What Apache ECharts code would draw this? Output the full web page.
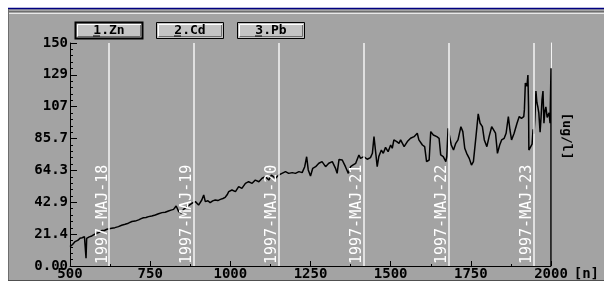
<!DOCTYPE html>
<html>
<head>
<meta charset="utf-8">
<script src="https://cdn.jsdelivr.net/npm/echarts@6/dist/echarts.min.js"></script>
<style>
  html, body { margin: 0; padding: 0; background: #fff; }
  #myChart { width: 604px; height: 284px; }
</style>
</head>
<body>
<div id="myChart"></div>
<script>
// sample number [n]
var sampleN = [500, 508, 516, 524, 531, 538, 545, 549, 550, 552, 560, 568, 576, 583, 591, 599, 607, 615, 622, 630,
  640, 651, 661, 672, 682, 693, 703, 714, 722, 729, 737, 745, 755, 766, 776, 787, 797, 807, 815, 823,
  831, 835, 839, 847, 854, 860, 865, 872, 880, 886, 891, 901, 911, 917, 922, 930, 937, 945, 953, 961,
  969, 977, 984, 990, 995, 1005, 1016, 1026, 1036, 1047, 1057, 1068, 1078, 1089, 1099, 1109, 1120, 1128, 1141, 1151,
  1161, 1172, 1182, 1193, 1203, 1214, 1224, 1232, 1238, 1243, 1250, 1257, 1266, 1276, 1286, 1297, 1307, 1318, 1328, 1333,
  1339, 1349, 1359, 1368, 1375, 1383, 1391, 1401, 1406, 1416, 1427, 1437, 1443, 1448, 1453, 1458, 1463, 1471, 1477, 1484,
  1492, 1500, 1505, 1510, 1519, 1526, 1531, 1542, 1552, 1562, 1573, 1583, 1588, 1599, 1606, 1612, 1620, 1625, 1633, 1644,
  1651, 1656, 1664, 1672, 1675, 1679, 1683, 1689, 1696, 1703, 1710, 1719, 1725, 1731, 1737, 1745, 1752, 1758, 1766, 1773,
  1779, 1786, 1792, 1800, 1807, 1815, 1821, 1827, 1833, 1840, 1846, 1854, 1860, 1867, 1872, 1877, 1885, 1894, 1901, 1908,
  1915, 1917, 1920, 1925, 1928, 1930, 1931, 1934, 1941, 1944, 1947, 1950, 1953, 1956, 1959, 1962, 1966, 1969, 1972, 1975,
  1978, 1981, 1984, 1988, 1991, 1994, 1997, 2000, 2000];
// Zn [ug/l]
var znValues = [13.0, 14.5, 16.4, 17.2, 18.6, 19.0, 19.8, 20.9, 5.2, 18.6, 19.6, 20.2, 21.3, 22.0, 22.6, 23.8, 23.9, 24.7, 25.0, 25.4,
  25.8, 26.5, 27.4, 28.1, 28.8, 29.9, 30.2, 31.0, 31.9, 32.5, 32.6, 33.2, 33.7, 34.3, 35.1, 35.9, 36.2, 37.0, 37.6, 38.1,
  40.4, 38.5, 36.6, 35.5, 38.1, 39.0, 39.9, 41.0, 42.2, 42.5, 43.3, 41.0, 44.4, 47.8, 43.3, 43.9, 42.6, 43.8, 44.4, 44.0,
  44.8, 45.4, 46.2, 47.9, 50.0, 51.1, 50.0, 53.4, 52.2, 55.6, 56.7, 55.6, 57.8, 56.7, 59.0, 60.1, 57.8, 61.2, 59.0, 61.2,
  62.3, 63.5, 62.3, 62.8, 62.3, 63.5, 62.8, 66.8, 73.5, 64.6, 60.5, 65.7, 66.8, 69.1, 70.2, 66.8, 69.1, 70.2, 65.7, 62.3,
  71.7, 71.3, 66.8, 62.3, 66.8, 68.0, 69.1, 74.7, 72.4, 73.6, 71.8, 72.9, 75.8, 87.0, 85.9, 66.8, 73.6, 78.0, 75.8, 79.8,
  76.9, 81.4, 79.2, 84.8, 83.7, 82.5, 84.8, 80.3, 83.7, 85.9, 87.0, 89.3, 84.8, 81.4, 80.3, 70.2, 71.3, 90.4, 88.1, 87.0,
  85.9, 74.7, 73.6, 70.2, 73.6, 92.6, 91.5, 81.4, 78.0, 82.5, 84.8, 93.7, 90.4, 79.2, 75.8, 72.4, 67.9, 70.2, 87.0, 102.3,
  96.0, 93.7, 84.8, 80.3, 87.0, 93.7, 94.9, 89.3, 75.8, 81.4, 84.8, 85.9, 89.3, 100.5, 91.5, 84.8, 89.3, 96.0, 100.5, 99.3,
  100.5, 105, 123, 121, 128.5, 107, 78, 79, 82, 92, 89, 100, 117.7, 110, 107, 103, 90, 100, 112, 117.7,
  96, 104, 107, 100, 99, 103, 96, 133, 0];

var markerN = [622, 887, 1150, 1416, 1681, 1947];
var markerLabels = ['1997-MAJ-18', '1997-MAJ-19', '1997-MAJ-20', '1997-MAJ-21', '1997-MAJ-22', '1997-MAJ-23'];
var yTickLabels = ['0.00', '21.4', '42.9', '64.3', '85.7', '107', '129', '150'];
var xTickLabels = ['500', '750', '1000', '1250', '1500', '1750', '2000'];
var buttons = ['1.Zn', '2.Cd', '3.Pb'];

var mono = '"DejaVu Sans Mono", "Liberation Mono", monospace';

var points = [];
for (var i = 0; i < sampleN.length; i++) {
  points.push([sampleN[i], znValues[i]]);
}

var markData = [];
for (var k = 0; k < markerN.length; k++) {
  markData.push({ xAxis: markerN[k], label: { formatter: markerLabels[k] } });
}

// window frame and buttons
var graphics = [
  { type: 'rect', shape: { x: 8, y: 9, width: 596, height: 271 }, style: { fill: '#a3a3a3' }, silent: true },
  { type: 'line', shape: { x1: 8, y1: 8.5, x2: 604, y2: 8.5 }, style: { stroke: '#000080', lineWidth: 1.5 } },
  { type: 'line', shape: { x1: 8, y1: 11.5, x2: 604, y2: 11.5 }, style: { stroke: '#6e6e6e', lineWidth: 1 } },
  { type: 'line', shape: { x1: 8, y1: 13.5, x2: 604, y2: 13.5 }, style: { stroke: '#e8e8e8', lineWidth: 1 } },
  { type: 'line', shape: { x1: 8.5, y1: 9, x2: 8.5, y2: 280 }, style: { stroke: '#6e6e6e', lineWidth: 1 } },
  { type: 'line', shape: { x1: 8, y1: 280.5, x2: 604, y2: 280.5 }, style: { stroke: '#505050', lineWidth: 1 } }
];
var btnX = [75, 156, 237];
for (var b = 0; b < buttons.length; b++) {
  var bx = btnX[b];
  graphics.push({ type: 'rect', shape: { x: bx + 0.5, y: 22.5, width: 67, height: 16 },
    style: { fill: '#c4c4c4', stroke: '#000', lineWidth: b === 0 ? 2 : 1 } });
  graphics.push({ type: 'polyline', shape: { points: [[bx + 2.5, 36], [bx + 2.5, 24.5], [bx + 66, 24.5]] },
    style: { stroke: '#fff', lineWidth: 1, fill: null } });
  graphics.push({ type: 'polyline', shape: { points: [[bx + 3, 36.5], [bx + 65.5, 36.5], [bx + 65.5, 25]] },
    style: { stroke: '#6e6e6e', lineWidth: 1, fill: null } });
  graphics.push({ type: 'text', x: bx + 34, y: 31, style: { text: buttons[b], font: 'bold 13px ' + mono,
    fill: '#000', align: 'center', verticalAlign: 'middle' } });
  graphics.push({ type: 'line', shape: { x1: bx + 18, y1: 36, x2: bx + 25, y2: 36 }, style: { stroke: '#000', lineWidth: 1 } });
}
graphics.push({ type: 'text', x: 566, y: 136, rotation: -Math.PI / 2,
  style: { text: '[ug/l]', font: 'bold 13px ' + mono, fill: '#000', align: 'center', verticalAlign: 'middle' } });

var myChart = echarts.init(document.getElementById('myChart'));
myChart.setOption({
  animation: false,
  backgroundColor: '#fff',
  graphic: graphics,
  grid: { left: 70, top: 43, right: 53, bottom: 18 },
  xAxis: [{
    type: 'value', min: 500, max: 2000, interval: 250, position: 'bottom',
    name: '[n]', nameLocation: 'end', nameGap: 19,
    nameTextStyle: { fontFamily: mono, fontWeight: 'bold', fontSize: 14, color: '#000', verticalAlign: 'top', padding: [1, 0, 0, 0] },
    axisLine: { onZero: false, lineStyle: { color: '#f4f4f4', width: 1 } },
    axisTick: { inside: true, length: 5, lineStyle: { color: '#000' } },
    minorTick: { show: true, splitNumber: 2, length: 2, lineStyle: { color: '#000' } },
    axisLabel: { margin: 1, fontFamily: mono, fontWeight: 'bold', fontSize: 14, color: '#000',
      formatter: function (v) { return xTickLabels[Math.round((v - 500) / 250)]; } },
    splitLine: { show: false }
  }, {
    type: 'value', min: 500, max: 2000, position: 'top',
    axisLine: { show: true, lineStyle: { color: '#000', width: 1 } },
    axisTick: { show: false }, axisLabel: { show: false }, splitLine: { show: false }
  }],
  yAxis: [{
    type: 'value', min: 0, max: 150, interval: 150 / 7, position: 'left',
    axisLine: { show: true, lineStyle: { color: '#000', width: 1 } },
    axisTick: { show: true, inside: true, length: 7, lineStyle: { color: '#000' } },
    minorTick: { show: true, splitNumber: 5, length: 3, lineStyle: { color: '#000' } },
    axisLabel: { margin: 2, fontFamily: mono, fontWeight: 'bold', fontSize: 14, color: '#000',
      formatter: function (v, idx) { return yTickLabels[idx]; } },
    splitLine: { show: false }
  }, {
    type: 'value', min: 0, max: 150, position: 'right',
    axisLine: { show: true, lineStyle: { color: '#f4f4f4', width: 1 } },
    axisTick: { show: false }, axisLabel: { show: false }, splitLine: { show: false }
  }],
  series: [{
    type: 'line',
    data: points,
    showSymbol: false,
    lineStyle: { color: '#000', width: 1.5 },
    z: 3,
    markLine: {
      silent: true,
      symbol: ['none', 'none'],
      lineStyle: { color: '#f4f4f4', width: 1.5, type: 'solid' },
      label: { show: true, position: 'insideStartTop', distance: [2, -1], color: '#fff',
        fontFamily: mono, fontSize: 15 },
      data: markData
    }
  }]
});
</script>
</body>
</html>
